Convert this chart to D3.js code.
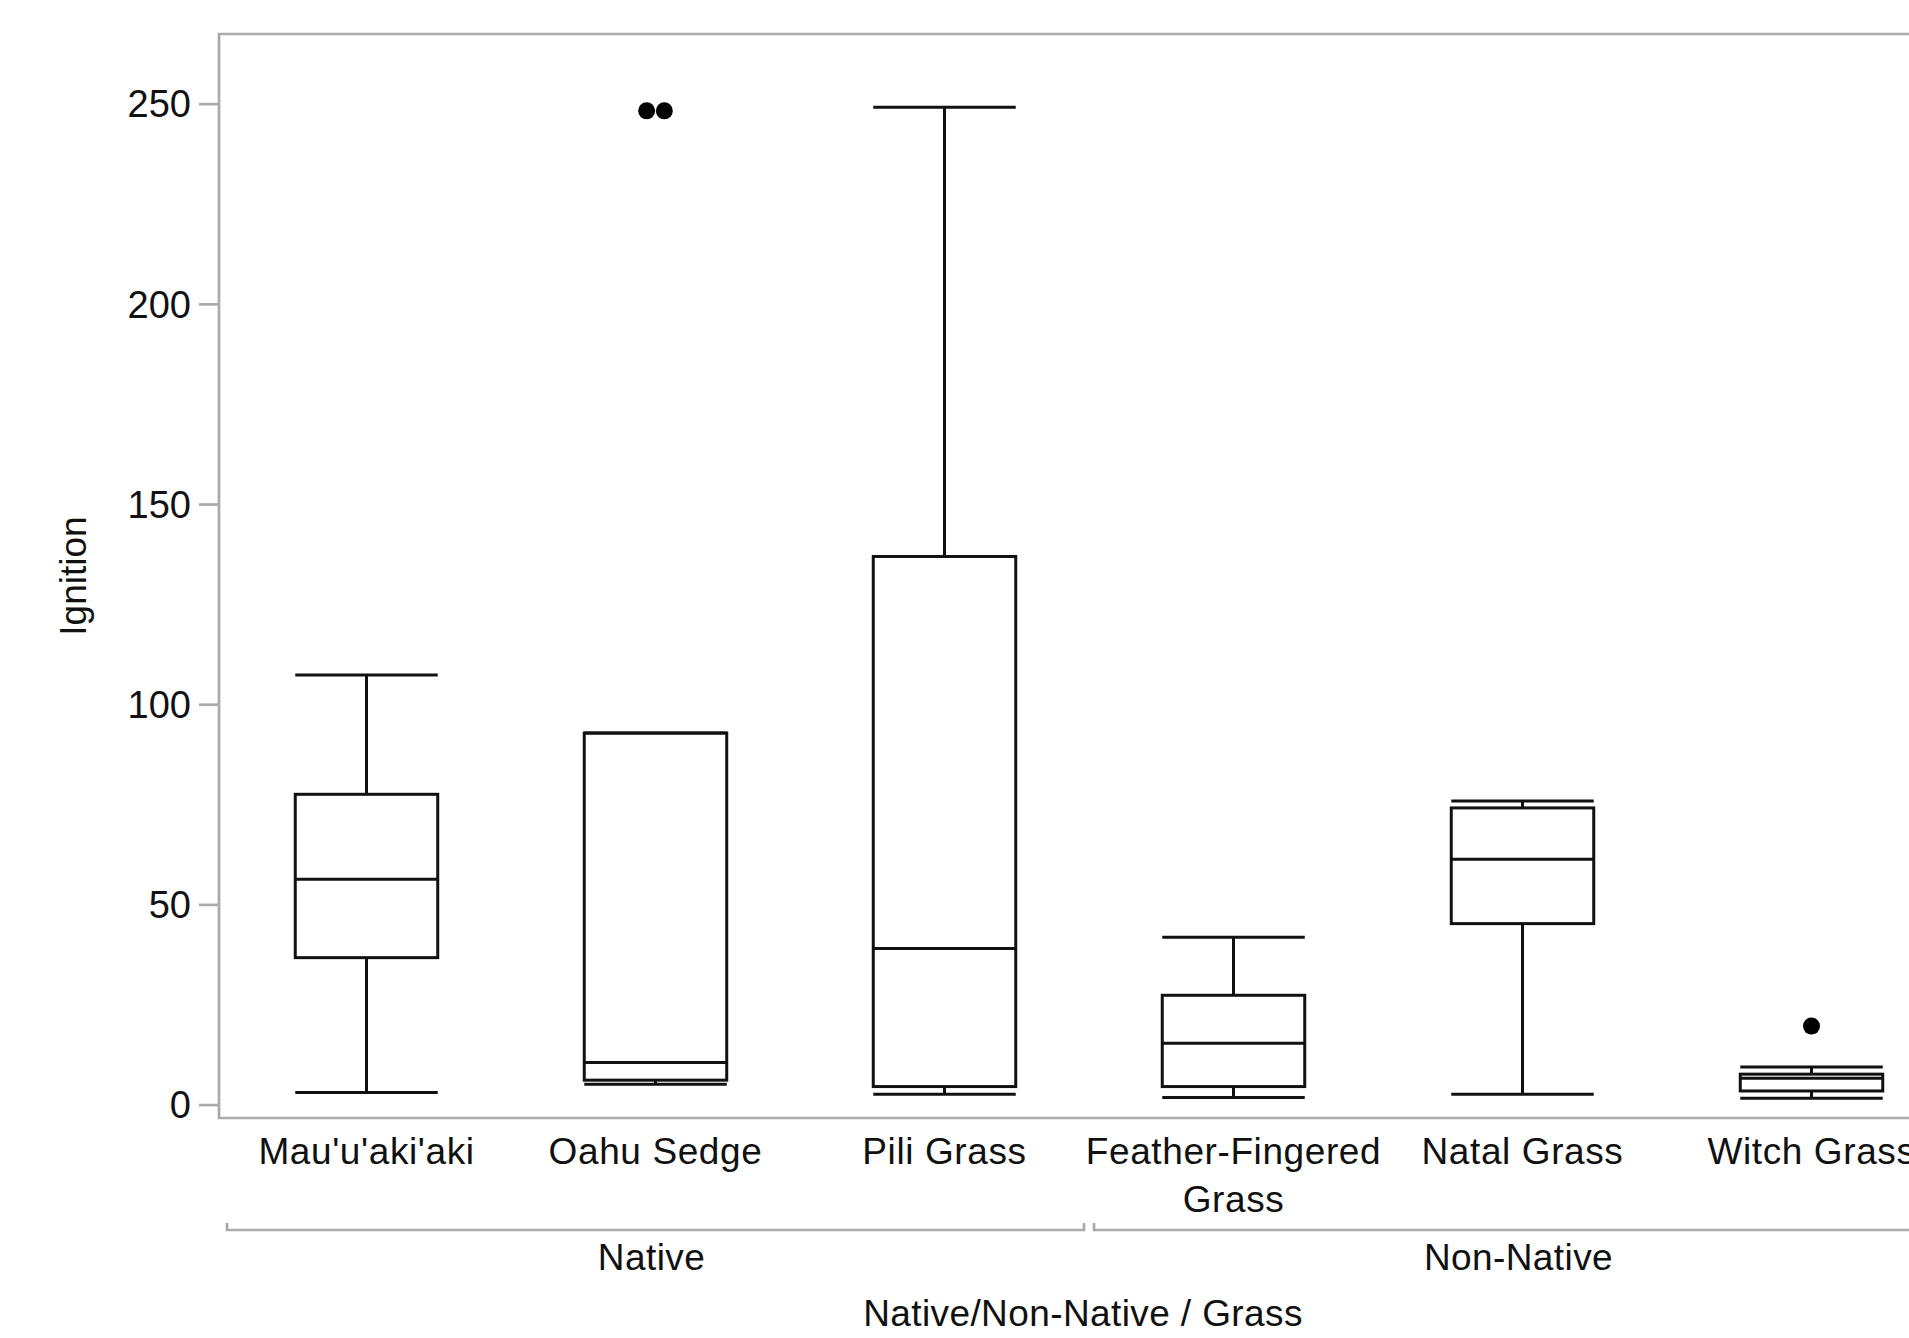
<!DOCTYPE html>
<html>
<head>
<meta charset="utf-8">
<script src="https://cdn.jsdelivr.net/npm/d3@7"></script>
<style>
  body { margin: 0; background: #fff; overflow: hidden; }
  svg text { font-family: "Liberation Sans", Arial, Helvetica, sans-serif; fill: #111; }
</style>
</head>
<body>
<script>
// Box plot values
var grasses = ["Mau'u'aki'aki", "Oahu Sedge", "Pili Grass", "Feather-Fingered Grass", "Natal Grass", "Witch Grass"];
var groups = ["Native", "Native", "Native", "Non-Native", "Non-Native", "Non-Native"];
var lowWhisker = [3.0, 5.1, 2.6, 1.8, 2.6, 1.6];
var q1 = [36.7, 6.1, 4.5, 4.5, 45.2, 3.4];
var median = [56.3, 10.5, 39.0, 15.3, 61.3, 6.6];
var q3 = [77.5, 92.8, 136.9, 27.3, 74.1, 7.6];
var highWhisker = [107.3, 92.8, 249.1, 41.8, 75.8, 9.4];
var outliers = [[], [248.2, 248.2], [], [], [], [19.6]];
var yTicks = [0, 50, 100, 150, 200, 250];

var width = 1909, height = 1338;
var frameLeft = 219, frameTop = 34, frameBottom = 1118;

var svg = d3.select("body").append("svg")
  .attr("width", width)
  .attr("height", height);

var x = d3.scaleBand()
  .domain(grasses)
  .range([222, 1956])
  .padding(0);

var y = d3.scaleLinear()
  .domain([-3.35, 267.4])
  .range([frameBottom, frameTop]);

var boxW = x.bandwidth() * 0.493;
var grey = "#aaaaaa";

// frame (left, top, bottom)
svg.append("path")
  .attr("d", "M" + (width + 60) + "," + frameTop + "H" + frameLeft + "V" + frameBottom + "H" + (width + 60))
  .attr("fill", "none")
  .attr("stroke", grey)
  .attr("stroke-width", 2.7);

// y axis
var yAxis = d3.axisLeft(y).tickValues(yTicks).tickSize(20).tickPadding(8);
var gy = svg.append("g")
  .attr("transform", "translate(" + frameLeft + ",0)")
  .call(yAxis);
gy.select(".domain").remove();
gy.selectAll(".tick line").attr("stroke", grey).attr("stroke-width", 2.7);
gy.selectAll(".tick text").style("font-size", "38px").attr("dy", "0.35em").attr("fill", "#111");

svg.append("text")
  .attr("transform", "translate(73," + ((frameTop + frameBottom) / 2 + 0) + ") rotate(-90)")
  .attr("text-anchor", "middle")
  .attr("dy", "0.35em")
  .style("font-size", "37px")
  .text("Ignition");

// boxes
var data = grasses.map(function (g, i) {
  return { name: g, lo: lowWhisker[i], q1: q1[i], med: median[i], q3: q3[i], hi: highWhisker[i], out: outliers[i] };
});

var box = svg.selectAll("g.box")
  .data(data)
  .enter().append("g")
  .attr("class", "box")
  .attr("transform", function (d) { return "translate(" + (x(d.name) + x.bandwidth() / 2) + ",0)"; });

var stroke = "#111";
var sw = 3;

// whisker stems
box.append("line")
  .attr("x1", 0).attr("x2", 0)
  .attr("y1", function (d) { return y(d.hi); })
  .attr("y2", function (d) { return y(d.q3); })
  .attr("stroke", stroke).attr("stroke-width", sw);
box.append("line")
  .attr("x1", 0).attr("x2", 0)
  .attr("y1", function (d) { return y(d.q1); })
  .attr("y2", function (d) { return y(d.lo); })
  .attr("stroke", stroke).attr("stroke-width", sw);

// caps
box.selectAll("line.cap")
  .data(function (d) { return [d.lo, d.hi]; })
  .enter().append("line")
  .attr("class", "cap")
  .attr("x1", -boxW / 2).attr("x2", boxW / 2)
  .attr("y1", function (v) { return y(v); })
  .attr("y2", function (v) { return y(v); })
  .attr("stroke", stroke).attr("stroke-width", sw);

// box
box.append("rect")
  .attr("x", -boxW / 2)
  .attr("width", boxW)
  .attr("y", function (d) { return y(d.q3); })
  .attr("height", function (d) { return y(d.q1) - y(d.q3); })
  .attr("fill", "none")
  .attr("stroke", stroke).attr("stroke-width", sw);

// median
box.append("line")
  .attr("x1", -boxW / 2).attr("x2", boxW / 2)
  .attr("y1", function (d) { return y(d.med); })
  .attr("y2", function (d) { return y(d.med); })
  .attr("stroke", stroke).attr("stroke-width", sw);

// outliers, duplicates placed side by side
box.selectAll("circle")
  .data(function (d) { return d.out.map(function (v, i) { return { v: v, off: (i - (d.out.length - 1) / 2) * 17.7 }; }); })
  .enter().append("circle")
  .attr("cx", function (o) { return o.off; })
  .attr("cy", function (o) { return y(o.v); })
  .attr("r", 8.5)
  .attr("fill", "#000");

// x tick labels, wrapped to band width
var xl = svg.selectAll("text.xlab")
  .data(grasses)
  .enter().append("text")
  .attr("class", "xlab")
  .attr("text-anchor", "middle")
  .attr("x", function (d) { return x(d) + x.bandwidth() / 2; })
  .attr("y", 1164)
  .style("font-size", "37px")
  .style("letter-spacing", "0.6px");

xl.each(function (d) {
  var t = d3.select(this);
  var words = d.split(" ");
  var line = [], lines = [];
  var probe = t.append("tspan");
  words.forEach(function (w) {
    line.push(w);
    probe.text(line.join(" "));
    if (probe.node().getComputedTextLength() > x.bandwidth() + 10 && line.length > 1) {
      line.pop();
      lines.push(line.join(" "));
      line = [w];
    }
  });
  lines.push(line.join(" "));
  probe.remove();
  lines.forEach(function (l, i) {
    t.append("tspan")
      .attr("x", x(d) + x.bandwidth() / 2)
      .attr("dy", i === 0 ? 0 : 48)
      .text(l);
  });
});

// group brackets
var groupNames = Array.from(new Set(groups));
groupNames.forEach(function (gname) {
  var members = grasses.filter(function (g, i) { return groups[i] === gname; });
  var x0 = x(members[0]) + 5;
  var x1 = x(members[members.length - 1]) + x.bandwidth() - 5;
  var by = 1230;
  svg.append("path")
    .attr("d", "M" + x0 + "," + (by - 7) + "V" + by + "H" + x1 + "V" + (by - 7))
    .attr("fill", "none")
    .attr("stroke", grey)
    .attr("stroke-width", 2.7);
  svg.append("text")
    .attr("text-anchor", "middle")
    .attr("x", (x0 + x1) / 2 - 4)
    .attr("y", 1270)
    .style("font-size", "37px")
    .style("letter-spacing", "0.4px")
    .text(gname);
});

svg.append("text")
  .attr("text-anchor", "middle")
  .attr("x", 1083)
  .attr("y", 1326)
  .style("font-size", "37px")
  .style("letter-spacing", "0.4px")
  .text("Native/Non-Native / Grass");
</script>
</body>
</html>
